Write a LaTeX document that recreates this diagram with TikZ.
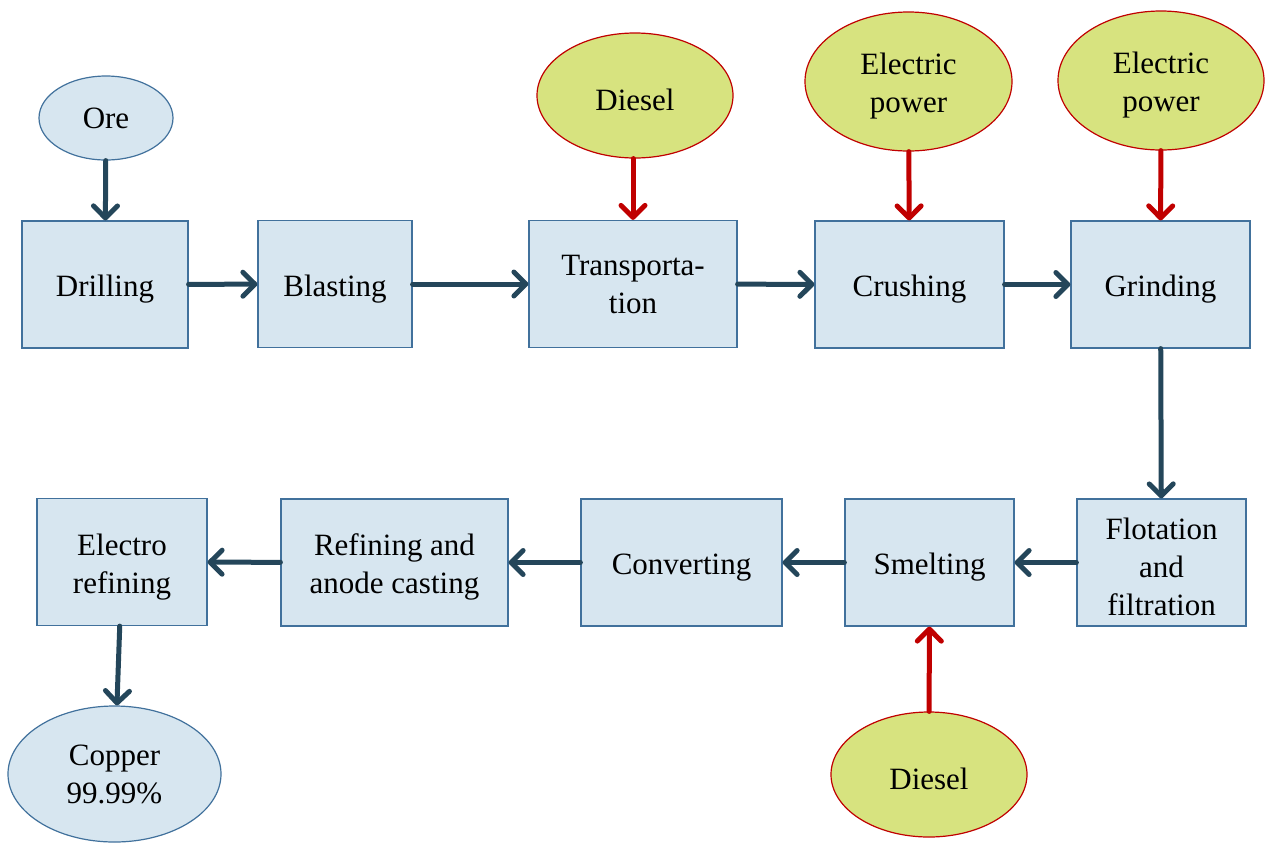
\documentclass[tikz,border=0pt]{standalone}
\usepackage{fontspec}
\setmainfont{Liberation Serif}
\newfontfamily\flowfont{Liberation Serif}
\usetikzlibrary{arrows.meta,shapes.geometric}

\definecolor{boxfill}{RGB}{215,230,240}
\definecolor{boxline}{RGB}{65,113,156}
\definecolor{fuelfill}{RGB}{215,227,127}
\definecolor{fuelline}{RGB}{192,0,0}
\definecolor{flowline}{RGB}{36,70,90}

% pushes the first line of a label a little down
\newcommand{\lift}{\rule{0pt}{15.5pt}}

\begin{document}
\begin{tikzpicture}[x=0.5pt, y=-0.5pt,
	every node/.style = {font=\flowfont\fontsize{15.5}{19}\selectfont, align=center, inner sep=0pt},
	lowtext/.style = {execute at begin node={\rule{0pt}{15.5pt}}},
	procbox/.style = {lowtext, draw=boxline, fill=boxfill, line width=0.6pt, minimum height=63.5pt},
	ends/.style = {ellipse, draw=boxline, fill=boxfill, line width=0.6pt},
	fuel/.style = {lowtext, ellipse, draw=fuelline, fill=fuelfill, line width=0.6pt},
	flow/.style = {draw=flowline, line width=2.5pt, line cap=round,
		-{Straight Barb[length=6pt, width=12pt, line cap=round, line join=round]}},
	feed/.style = {flow, draw=fuelline}
]
\useasboundingbox (0,0) rectangle (1269,842);

% top row
\node[ends, minimum width=67pt, minimum height=42pt] (ore) at (106,118) {Ore};
\node[procbox, minimum width=83pt] (drill) at (105,284.5) {Drilling};
\node[procbox, minimum width=77pt] (blast) at (335,284) {Blasting};
\node[procbox, minimum width=104pt] (trans) at (633,284) {Transporta-\\tion};
\node[procbox, minimum width=94.5pt] (crush) at (909.5,284.5) {Crushing};
\node[procbox, minimum width=89.5pt] (grind) at (1160.5,284.5) {Grinding};

% bottom row
\node[procbox, minimum width=84.5pt] (flot) at (1161.5,562.5) {\lift Flotation\\and\\filtration};
\node[procbox, minimum width=84.5pt] (smelt) at (929.5,562.5) {Smelting};
\node[procbox, minimum width=100.5pt] (conv) at (681.5,562.5) {Converting};
\node[procbox, minimum width=113.5pt] (refine) at (394.5,562.5) {\lift Refining and\\anode casting};
\node[procbox, minimum width=85pt] (electro) at (122,562) {\lift Electro\\refining};
\node[ends, minimum width=106.5pt, minimum height=68pt] (copper) at (114.5,774) {Copper\\99.99\%};

% energy inputs
\node[fuel, minimum width=98pt, minimum height=62.5pt] (dieselA) at (635,95.5) {Diesel};
\node[fuel, minimum width=103.5pt, minimum height=69.5pt] (powerA) at (908.5,81.5) {\lift Electric\\power};
\node[fuel, minimum width=103pt, minimum height=69.5pt] (powerB) at (1161,80.5) {\lift Electric\\power};
\node[fuel, minimum width=98pt, minimum height=62.5pt] (dieselB) at (929,774.5) {Diesel};

\draw[flow] (ore) -- (drill);
\draw[flow] (drill) -- (blast);
\draw[flow] (blast) -- (trans);
\draw[flow] (trans) -- (crush);
\draw[flow] (crush) -- (grind);
\draw[flow] (grind) -- (flot);
\draw[flow] (flot) -- (smelt);
\draw[flow] (smelt) -- (conv);
\draw[flow] (conv) -- (refine);
\draw[flow] (refine) -- (electro);
\draw[flow] (electro) -- (copper);

\draw[feed] (dieselA.south -| trans.north) -- (trans.north);
\draw[feed] (powerA) -- (crush);
\draw[feed] (powerB) -- (grind);
\draw[feed] (dieselB) -- (smelt);

\end{tikzpicture}
\end{document}
